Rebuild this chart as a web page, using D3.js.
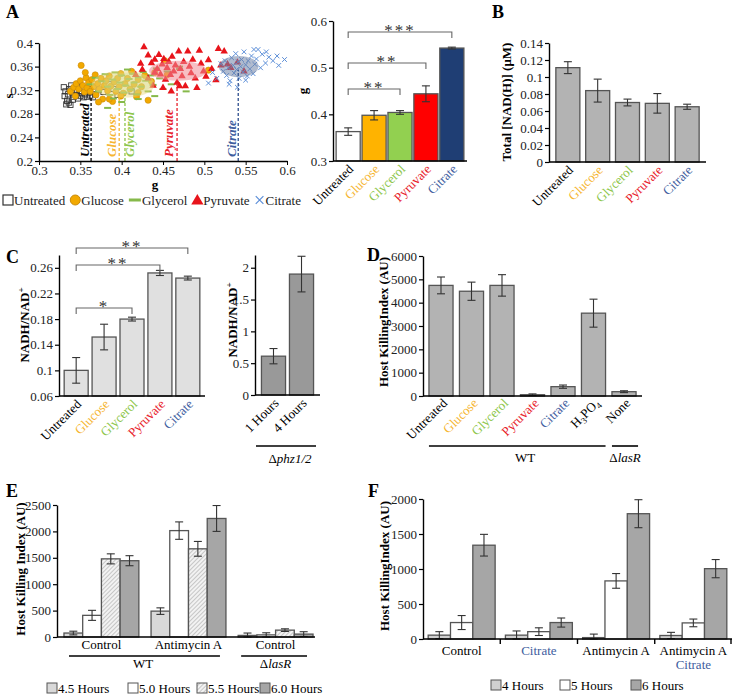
<!DOCTYPE html>
<html><head><meta charset="utf-8">
<script src="https://cdn.jsdelivr.net/npm/d3@7"></script>
<style>body{margin:0;background:#fff} svg text{font-family:"Liberation Serif","Times New Roman",serif}</style>
</head><body><svg id="c" width="733" height="696" font-family="Liberation Serif, serif"></svg>
<script>
// ---------------- DATA ----------------
const cats = ["Untreated","Glucose","Glycerol","Pyruvate","Citrate"];
const catTextColors = ["#000000","#F6B531","#8DC64B","#E8202A","#3E5D9E"];
// Panel A scatter (g, s)
const scUntreated = [[0.330,0.325],[0.332,0.318],[0.331,0.310],[0.334,0.302],[0.333,0.296],[0.336,0.299],[0.338,0.295],[0.335,0.313],[0.337,0.322],[0.339,0.328],[0.340,0.316],[0.342,0.309],[0.341,0.304],[0.344,0.320],[0.345,0.312],[0.347,0.306],[0.349,0.318],[0.350,0.310],[0.352,0.315],[0.354,0.308],[0.356,0.313],[0.358,0.309],[0.360,0.316],[0.362,0.311],[0.365,0.308],[0.368,0.313],[0.372,0.320],[0.378,0.317],[0.385,0.330],[0.390,0.322],[0.412,0.318],[0.395,0.312],[0.360,0.322],[0.346,0.326]];
const scGlucose = [[0.338,0.318],[0.342,0.325],[0.345,0.331],[0.348,0.322],[0.350,0.336],[0.351,0.362],[0.353,0.328],[0.355,0.317],[0.357,0.341],[0.358,0.324],[0.360,0.333],[0.362,0.318],[0.364,0.338],[0.366,0.326],[0.368,0.346],[0.369,0.312],[0.371,0.331],[0.373,0.322],[0.375,0.340],[0.377,0.305],[0.379,0.328],[0.381,0.336],[0.383,0.319],[0.385,0.344],[0.387,0.327],[0.389,0.301],[0.391,0.334],[0.393,0.318],[0.395,0.340],[0.397,0.326],[0.399,0.348],[0.402,0.315],[0.404,0.331],[0.407,0.340],[0.410,0.322],[0.412,0.352],[0.415,0.330],[0.418,0.309],[0.420,0.338],[0.424,0.326],[0.428,0.345],[0.432,0.303],[0.436,0.335],[0.440,0.350],[0.452,0.370],[0.455,0.346],[0.505,0.354],[0.385,0.305],[0.372,0.300],[0.344,0.310],[0.356,0.350],[0.399,0.310],[0.420,0.316]];
const scGlycerol = [[0.362,0.330],[0.368,0.341],[0.372,0.318],[0.376,0.335],[0.380,0.347],[0.383,0.326],[0.386,0.312],[0.389,0.338],[0.392,0.350],[0.395,0.322],[0.398,0.333],[0.400,0.345],[0.403,0.316],[0.405,0.328],[0.407,0.355],[0.409,0.339],[0.411,0.321],[0.413,0.348],[0.415,0.333],[0.418,0.313],[0.420,0.342],[0.423,0.326],[0.426,0.351],[0.429,0.336],[0.432,0.318],[0.435,0.345],[0.438,0.329],[0.442,0.357],[0.446,0.340],[0.450,0.322],[0.455,0.352],[0.460,0.330],[0.470,0.356],[0.478,0.318],[0.390,0.306],[0.420,0.305],[0.400,0.300],[0.383,0.290],[0.440,0.310],[0.470,0.360]];
const scPyruvate = [[0.427,0.393],[0.432,0.379],[0.436,0.366],[0.440,0.372],[0.443,0.356],[0.445,0.380],[0.447,0.347],[0.449,0.364],[0.451,0.373],[0.453,0.338],[0.455,0.358],[0.457,0.368],[0.459,0.346],[0.461,0.377],[0.463,0.352],[0.465,0.362],[0.467,0.333],[0.469,0.386],[0.471,0.356],[0.473,0.344],[0.475,0.368],[0.477,0.327],[0.480,0.386],[0.482,0.360],[0.484,0.349],[0.486,0.372],[0.489,0.340],[0.491,0.324],[0.494,0.387],[0.496,0.365],[0.499,0.352],[0.502,0.343],[0.505,0.371],[0.509,0.356],[0.514,0.337],[0.517,0.390],[0.520,0.362],[0.524,0.386],[0.528,0.364],[0.532,0.358],[0.540,0.367],[0.548,0.352],[0.417,0.346],[0.425,0.355],[0.432,0.340],[0.438,0.328],[0.450,0.324],[0.470,0.327],[0.460,0.318],[0.440,0.350],[0.423,0.365]];
const scCitrate = [[0.505,0.332],[0.510,0.350],[0.515,0.340],[0.520,0.365],[0.523,0.352],[0.525,0.370],[0.527,0.345],[0.529,0.358],[0.531,0.336],[0.533,0.375],[0.535,0.362],[0.536,0.349],[0.538,0.382],[0.539,0.355],[0.541,0.368],[0.542,0.340],[0.544,0.360],[0.545,0.372],[0.547,0.351],[0.548,0.385],[0.550,0.363],[0.552,0.344],[0.553,0.370],[0.555,0.356],[0.557,0.378],[0.559,0.348],[0.561,0.364],[0.563,0.373],[0.565,0.389],[0.568,0.358],[0.570,0.381],[0.574,0.366],[0.578,0.376],[0.583,0.370],[0.590,0.362],[0.597,0.372],[0.540,0.325],[0.530,0.330],[0.550,0.337],[0.560,0.389],[0.575,0.385],[0.588,0.378]];
const ellipseNames = ["Glucose","Glycerol","Pyruvate","Citrate"];
const ellipseG = [0.402,0.408,0.468,0.5415];
const ellipseS = [0.330,0.332,0.353,0.360];
const ellipseRg = [0.038,0.030,0.035,0.024];
const ellipseRs = [0.023,0.018,0.017,0.018];
const meanG = [0.363,0.397,0.404,0.467,0.541];
const meanLineTopS = [0.309,0.312,0.312,0.337,0.355];
const scXTicks = [0.3,0.35,0.4,0.45,0.5,0.55,0.6];
const scYTicks = [0.2,0.24,0.28,0.32,0.36,0.4];
// Panel A bars
const aG = [0.363,0.398,0.404,0.444,0.542];
const aGErr = [0.008,0.010,0.004,0.017,0.002];
const aTicks = [0.3,0.4,0.5,0.6];
// Panel B
const bNAD = [0.111,0.084,0.070,0.069,0.065];
const bErr = [0.007,0.0135,0.004,0.0115,0.003];
const bTicks = [0,0.02,0.04,0.06,0.08,0.1,0.12,0.14];
// Panel C
const cRatio = [0.100,0.152,0.180,0.252,0.244];
const cErr = [0.020,0.020,0.003,0.004,0.003];
const cTicks = [0.06,0.1,0.14,0.18,0.22,0.26];
const cPhzCats = ["1 Hours","4 Hours"];
const cPhz = [0.61,1.90];
const cPhzErr = [0.12,0.28];
const cPhzTicks = [0,0.5,1,1.5,2];
// Panel D
const dCats = ["Untreated","Glucose","Glycerol","Pyruvate","Citrate","H3PO4","None"];
const dTextColors = ["#000000","#F6B531","#8DC64B","#E8202A","#3E5D9E","#000000","#000000"];
const dKill = [4740,4490,4740,55,400,3550,185];
const dErr = [360,390,460,35,70,600,40];
const dTicks = [0,1000,2000,3000,4000,5000,6000];
// Panel E
const eGroups = ["Control WT","Antimycin A WT","Control lasR"];
const eGroupLabels = ["Control","Antimycin A","Control"];
const eSeries = ["4.5 Hours","5.0 Hours","5.5 Hours","6.0 Hours"];
const e45 = [75,490,30], e45Err = [35,62,45];
const e50 = [410,2015,40], e50Err = [95,165,40];
const e55 = [1480,1670,130], e55Err = [95,140,25];
const e60 = [1445,2245,55], e60Err = [95,245,45];
const eTicks = [0,500,1000,1500,2000,2500];
// Panel F
const fGroups = ["Control","Citrate","Antimycin A","Antimycin A Citrate"];
const fSeries = ["4 Hours","5 Hours","6 Hours"];
const f4 = [55,55,20,50], f4Err = [50,60,50,45];
const f5 = [235,105,830,230], f5Err = [100,55,105,55];
const f6 = [1340,235,1790,1005], f6Err = [155,65,200,130];
const fTicks = [0,500,1000,1500,2000];

// ---------------- DRAWING ----------------
const svg = d3.select("#c");
const defs = svg.append("defs");
const pat = defs.append("pattern").attr("id","hatch").attr("patternUnits","userSpaceOnUse")
  .attr("width",3).attr("height",3).attr("patternTransform","rotate(45)");
pat.append("rect").attr("width",3).attr("height",3).attr("fill","#f2f2f2");
pat.append("line").attr("x1",0).attr("y1",0).attr("x2",0).attr("y2",3).attr("stroke","#a8a8a8").attr("stroke-width",1.2);

const fmtNum = d => String(+d.toFixed(2));

function yAxis(scale, x, ticks, fmt) {
  const g = svg.append("g").attr("transform",`translate(${x},0)`)
    .call(d3.axisLeft(scale).tickValues(ticks).tickFormat(fmt || fmtNum).tickSize(4).tickPadding(2).tickSizeOuter(0));
  g.attr("font-family",null);
  g.select(".domain").attr("stroke","#000").attr("stroke-width",1.4);
  g.selectAll(".tick line").attr("stroke","#000").attr("stroke-width",1.2);
  g.selectAll("text").attr("font-size",13).attr("fill","#222");
  return g;
}
function xLine(x0,x1,y) {
  svg.append("line").attr("x1",x0).attr("x2",x1).attr("y1",y).attr("y2",y).attr("stroke","#000").attr("stroke-width",1.6);
}
function drawBars(xs, ys, keys, vals, errs, fills, stroke, offset, bw) {
  const base = ys.range()[0];
  keys.forEach((k,i)=>{
    const x = xs(k) + (offset||0);
    const w = bw || xs.bandwidth();
    svg.append("rect").attr("x",x).attr("y",ys(vals[i])).attr("width",w).attr("height",base-ys(vals[i]))
      .attr("fill",Array.isArray(fills)?fills[i]:fills).attr("stroke",stroke||"#555").attr("stroke-width",1.3);
  });
  keys.forEach((k,i)=>{
    const cx = xs(k) + (offset||0) + (bw || xs.bandwidth())/2;
    const t = ys(vals[i]+errs[i]), b = ys(Math.max(vals[i]-errs[i], ys.domain()[0]));
    const cap = 4;
    const g = svg.append("g").attr("stroke","#333").attr("stroke-width",1.1);
    g.append("line").attr("x1",cx).attr("x2",cx).attr("y1",t).attr("y2",b);
    g.append("line").attr("x1",cx-cap).attr("x2",cx+cap).attr("y1",t).attr("y2",t);
    g.append("line").attr("x1",cx-cap).attr("x2",cx+cap).attr("y1",b).attr("y2",b);
  });
}
function rotLabels(xs, axisY, keys, colors, dx, dy) {
  keys.forEach((k,i)=>{
    const cx = xs(k)+xs.bandwidth()/2 + (dx||6);
    const t = svg.append("text").attr("transform",`translate(${cx},${axisY+(dy||9)}) rotate(-45)`)
      .attr("text-anchor","end").attr("font-size",13).attr("fill",colors[i]);
    if (k === "H3PO4") {
      t.append("tspan").text("H");
      t.append("tspan").attr("font-size",9).attr("dy",3).text("3");
      t.append("tspan").attr("dy",-3).text("PO");
      t.append("tspan").attr("font-size",9).attr("dy",3).text("4");
    } else t.text(k);
  });
}
function yTitle(text, x, cy, sup) {
  const t = svg.append("text").attr("transform",`translate(${x},${cy}) rotate(-90)`).attr("text-anchor","middle")
    .attr("font-size",13).attr("font-weight","bold").attr("fill","#000");
  t.append("tspan").text(text);
  if (sup) t.append("tspan").attr("font-size",9).attr("dy",-5).text(sup);
}
function bracket(x1,x2,y,stars) {
  svg.append("path").attr("d",`M${x1},${y+6}V${y}H${x2}V${y+6}`).attr("fill","none").attr("stroke","#666").attr("stroke-width",1.1);
  svg.append("text").attr("x",(x1+x2)/2).attr("y",y+4).attr("text-anchor","middle").attr("font-size",17).attr("fill","#333")
    .attr("letter-spacing",2).text(stars);
}
function panelLetter(l,x,y) {
  svg.append("text").attr("x",x).attr("y",y).attr("font-size",18).attr("font-weight","bold").text(l);
}

// ===== Panel A scatter =====
panelLetter("A",6,18);
const sx = d3.scaleLinear().domain([0.3,0.6]).range([39,287]);
const sy = d3.scaleLinear().domain([0.2,0.4]).range([161,43]);
const gPts = svg.append("g");
scUntreated.forEach(d=>gPts.append("rect").attr("x",sx(d[0])-2.6).attr("y",sy(d[1])-2.6).attr("width",5.2).attr("height",5.2)
  .attr("fill","none").attr("stroke","#333").attr("stroke-width",0.9));
scGlucose.forEach(d=>gPts.append("circle").attr("cx",sx(d[0])).attr("cy",sy(d[1])).attr("r",3.1)
  .attr("fill","#F2A900").attr("stroke","#C98A0A").attr("stroke-width",0.6));
scGlycerol.forEach(d=>gPts.append("line").attr("x1",sx(d[0])-3.5).attr("x2",sx(d[0])+3.5).attr("y1",sy(d[1])).attr("y2",sy(d[1]))
  .attr("stroke","#86B94A").attr("stroke-width",2));
const tri = d3.symbol(d3.symbolTriangle).size(24);
scPyruvate.forEach(d=>gPts.append("path").attr("d",tri()).attr("transform",`translate(${sx(d[0])},${sy(d[1])})`).attr("fill","#E8141B"));
const xs5 = d3.symbol(d3.symbolX).size(16);
scCitrate.forEach(d=>gPts.append("path").attr("d",xs5()).attr("transform",`translate(${sx(d[0])},${sy(d[1])})`)
  .attr("fill","none").attr("stroke","#5D8FD8").attr("stroke-width",1));
const ellFill = ["#E9D77A","#C9D98A","#F08A93","#6F83A8"];
const ellOp = [0.45,0.3,0.55,0.55];
ellipseNames.forEach((n,i)=>{
  svg.append("ellipse").attr("cx",sx(ellipseG[i])).attr("cy",sy(ellipseS[i]))
    .attr("rx",sx(ellipseG[i]+ellipseRg[i])-sx(ellipseG[i])).attr("ry",sy(ellipseS[i])-sy(ellipseS[i]+ellipseRs[i]))
    .attr("fill",ellFill[i]).attr("opacity",ellOp[i]);
});
const lineColors = ["#000","#F6B531","#8DC64B","#E8202A","#2E4F8E"];
const labelDx = [-2,-3,9,-4,-2];
cats.forEach((c,i)=>{
  svg.append("line").attr("x1",sx(meanG[i])).attr("x2",sx(meanG[i])).attr("y1",sy(0.2)).attr("y2",sy(meanLineTopS[i]))
    .attr("stroke",lineColors[i]).attr("stroke-width",1.3).attr("stroke-dasharray","3,2");
  svg.append("text").attr("transform",`translate(${sx(meanG[i])+labelDx[i]},157) rotate(-90)`)
    .attr("font-size",13).attr("font-style","italic").attr("font-weight","bold").attr("fill",i===0?"#000":catTextColors[i]).text(c);
});
{
  const gx = svg.append("g").attr("transform","translate(0,161)")
    .call(d3.axisBottom(sx).tickValues(scXTicks).tickFormat(fmtNum).tickSize(4).tickPadding(1).tickSizeOuter(0));
  gx.attr("font-family",null);
  gx.select(".domain").attr("stroke","#000").attr("stroke-width",1.4);
  gx.selectAll("text").attr("font-size",13).attr("fill","#222");
  yAxis(sy,39,scYTicks);
  svg.append("text").attr("x",155).attr("y",189).attr("text-anchor","middle").attr("font-size",13).attr("font-weight","bold").text("g");
  svg.append("text").attr("transform","translate(13,96) rotate(-90)").attr("text-anchor","middle").attr("font-size",13).attr("font-weight","bold").text("s");
}
// legend A (laid out sequentially)
{
  const ly = 200;
  let x = 3;
  const icons = [
    g=>g.append("rect").attr("x",0).attr("y",-5).attr("width",10).attr("height",10).attr("fill","none").attr("stroke","#333").attr("stroke-width",1.2),
    g=>g.append("circle").attr("cx",5).attr("cy",0).attr("r",5).attr("fill","#F2A900").attr("stroke","#C98A0A"),
    g=>g.append("rect").attr("x",0).attr("y",-1.5).attr("width",12).attr("height",3).attr("fill","#86B94A"),
    g=>g.append("path").attr("d",d3.symbol(d3.symbolTriangle).size(65)()).attr("transform","translate(5,1)").attr("fill","#E8141B"),
    g=>g.append("path").attr("d",d3.symbol(d3.symbolX).size(40)()).attr("transform","translate(5,0)").attr("fill","none").attr("stroke","#5D8FD8").attr("stroke-width",1.2)
  ];
  const iconW = [10,10,12,10,10];
  cats.forEach((c,i)=>{
    const g = svg.append("g").attr("transform",`translate(${x},${ly})`);
    icons[i](g);
    x += iconW[i] + 1;
    const t = svg.append("text").attr("x",x).attr("y",ly+4.5).attr("font-size",13).attr("fill","#222").text(c);
    x += t.node().getComputedTextLength() + 5;
  });
}

// ===== Panel A bars =====
const aX = d3.scaleBand().domain(cats).range([333,467]).paddingInner(0.07).paddingOuter(0.12);
const aY = d3.scaleLinear().domain([0.3,0.6]).range([161,21]);
drawBars(aX,aY,cats,aG,aGErr,["#FFFFFF","#FFB300","#92D050","#FF0000","#1F3E74"],"#555");
xLine(333,467,161);
yAxis(aY,333,aTicks);
rotLabels(aX,161,cats,catTextColors);
svg.append("text").attr("transform","translate(307,91) rotate(-90)").attr("text-anchor","middle").attr("font-size",13).attr("font-weight","bold").text("g");
{
  const c0 = aX("Untreated")+aX.bandwidth()/2;
  bracket(c0, aX("Citrate")+aX.bandwidth()/2, 32, "***");
  bracket(c0, aX("Pyruvate")+aX.bandwidth()/2, 63, "**");
  bracket(c0, aX("Glycerol")+aX.bandwidth()/2, 89, "**");
}

// ===== Panel B =====
panelLetter("B",492,18);
const bX = d3.scaleBand().domain(cats).range([549,706]).paddingInner(0.195).paddingOuter(0.23);
const bY = d3.scaleLinear().domain([0,0.14]).range([162,43]);
drawBars(bX,bY,cats,bNAD,bErr,"#B3B3B3","#555");
xLine(549,706,162);
yAxis(bY,549,bTicks);
rotLabels(bX,162,cats,catTextColors);
yTitle("Total [NAD(H)] (μM)",511,102);

// ===== Panel C left =====
panelLetter("C",6,263);
const cX = d3.scaleBand().domain(cats).range([59,205]).paddingInner(0.14).paddingOuter(0.185);
const cY = d3.scaleLinear().domain([0.06,0.28]).range([396,255]);
drawBars(cX,cY,cats,cRatio,cErr,"#E0E0E0","#555");
xLine(59,205,396);
yAxis(cY,59,cTicks);
rotLabels(cX,396,cats,catTextColors);
yTitle("NADH/NAD",29,325,"+");
{
  const c0 = cX("Untreated")+cX.bandwidth()/2;
  bracket(c0, cX("Citrate")+cX.bandwidth()/2, 248, "**");
  bracket(c0, cX("Pyruvate")+cX.bandwidth()/2, 265, "**");
  bracket(c0, cX("Glycerol")+cX.bandwidth()/2, 308, "*");
}
// ===== Panel C right =====
const cpX = d3.scaleBand().domain(cPhzCats).range([255,320]).paddingInner(0.14).paddingOuter(0.23);
const cpY = d3.scaleLinear().domain([0,2.2]).range([395,255]);
drawBars(cpX,cpY,cPhzCats,cPhz,cPhzErr,"#999999","#555");
xLine(255,320,395);
yAxis(cpY,255,cPhzTicks,d=>String(d));
rotLabels(cpX,395,cPhzCats,["#000","#000"]);
yTitle("NADH/NAD",237,320,"+");
xLine(256,316,446);
{
  const t = svg.append("text").attr("x",290).attr("y",463).attr("text-anchor","middle").attr("font-size",13).attr("font-style","italic");
  t.append("tspan").attr("font-style","normal").text("Δ"); t.append("tspan").text("phz1/2");
}

// ===== Panel D =====
panelLetter("D",367,261);
const dX = d3.scaleBand().domain(dCats).range([423,642]).paddingInner(0.21).paddingOuter(0.195);
const dY = d3.scaleLinear().domain([0,6000]).range([396,256]);
drawBars(dX,dY,dCats,dKill,dErr,"#B3B3B3","#555");
xLine(423,642,396);
yAxis(dY,423,dTicks,d=>String(d));
rotLabels(dX,396,dCats,dTextColors,7,8);
yTitle("Host KillingIndex (AU)",388,322);
xLine(dX("Untreated"),dX("H3PO4")+dX.bandwidth(),446);
xLine(dX("None"),dX("None")+dX.bandwidth()+2,446);
svg.append("text").attr("x",525).attr("y",462).attr("text-anchor","middle").attr("font-size",13).text("WT");
{
  const t = svg.append("text").attr("x",dX("None")+dX.bandwidth()/2+1).attr("y",462).attr("text-anchor","middle").attr("font-size",13).attr("font-style","italic");
  t.append("tspan").attr("font-style","normal").text("Δ"); t.append("tspan").text("lasR");
}

// ===== Panel E =====
panelLetter("E",6,497);
const eX = d3.scaleBand().domain(eGroups).range([57,320]).paddingInner(0.14).paddingOuter(0.08);
const eIn = d3.scaleBand().domain(eSeries).range([0,eX.bandwidth()]);
const eY = d3.scaleLinear().domain([0,2500]).range([637,505]);
const eFills = ["#D9D9D9","#FFFFFF","url(#hatch)","#A6A6A6"];
[[e45,e45Err],[e50,e50Err],[e55,e55Err],[e60,e60Err]].forEach((s,si)=>{
  drawBars(eX,eY,eGroups,s[0],s[1],eFills[si],"#555",eIn(eSeries[si]),eIn.bandwidth());
});
xLine(57,315,637);
yAxis(eY,57,eTicks,d=>String(d));
yTitle("Host Killing Index (AU)",25,569);
eGroups.forEach((g,i)=>svg.append("text").attr("x",eX(g)+eX.bandwidth()/2).attr("y",649).attr("text-anchor","middle").attr("font-size",13).text(eGroupLabels[i]));
xLine(eX(eGroups[0])+5,eX(eGroups[1])+eX.bandwidth()-6,656);
xLine(eX(eGroups[2])+3,eX(eGroups[2])+eX.bandwidth()-6,656);
svg.append("text").attr("x",143).attr("y",668).attr("text-anchor","middle").attr("font-size",13).text("WT");
{
  const t = svg.append("text").attr("x",eX(eGroups[2])+eX.bandwidth()/2).attr("y",668).attr("text-anchor","middle").attr("font-size",13).attr("font-style","italic");
  t.append("tspan").attr("font-style","normal").text("Δ"); t.append("tspan").text("lasR");
}
{
  const lx = [47,128,197,260];
  eSeries.forEach((s,i)=>{
    svg.append("rect").attr("x",lx[i]).attr("y",683).attr("width",10).attr("height",10).attr("fill",eFills[i]).attr("stroke","#555");
    svg.append("text").attr("x",lx[i]+11).attr("y",693).attr("font-size",13).text(s);
  });
}

// ===== Panel F =====
panelLetter("F",368,497);
const fX = d3.scaleBand().domain(fGroups).range([423,732]).paddingInner(0.133).paddingOuter(0.067);
const fIn = d3.scaleBand().domain(fSeries).range([0,fX.bandwidth()]);
const fY = d3.scaleLinear().domain([0,2000]).range([639,499]);
const fFills = ["#D0D0D0","#FFFFFF","#A6A6A6"];
[[f4,f4Err],[f5,f5Err],[f6,f6Err]].forEach((s,si)=>{
  drawBars(fX,fY,fGroups,s[0],s[1],fFills[si],"#555",fIn(fSeries[si]),fIn.bandwidth());
});
xLine(423,732,639);
{
  const step = fX.step();
  const seps = fGroups.map(g=>fX(g)-step*fX.paddingInner()/2).slice(1);
  seps.concat([731]).forEach(x=>svg.append("line").attr("x1",x).attr("x2",x).attr("y1",639).attr("y2",644).attr("stroke","#000").attr("stroke-width",1.4));
}
yAxis(fY,423,fTicks,d=>String(d));
yTitle("Host KillingIndex (AU)",389,566);
{
  const fLab = [["Control"],["Citrate"],["Antimycin A"],["Antimycin A","Citrate"]];
  const fLabCol = [["#000"],["#3E5D9E"],["#000"],["#000","#3E5D9E"]];
  fGroups.forEach((g,i)=>fLab[i].forEach((l,j)=>svg.append("text").attr("x",fX(g)+fX.bandwidth()/2).attr("y",655+j*14)
    .attr("text-anchor","middle").attr("font-size",13).attr("fill",fLabCol[i][j]).text(l)));
  const lx = [491,560,631];
  fSeries.forEach((s,i)=>{
    svg.append("rect").attr("x",lx[i]).attr("y",680).attr("width",10).attr("height",10).attr("fill",fFills[i]).attr("stroke","#555");
    svg.append("text").attr("x",lx[i]+11).attr("y",690).attr("font-size",13).text(s);
  });
}
</script></body></html>
